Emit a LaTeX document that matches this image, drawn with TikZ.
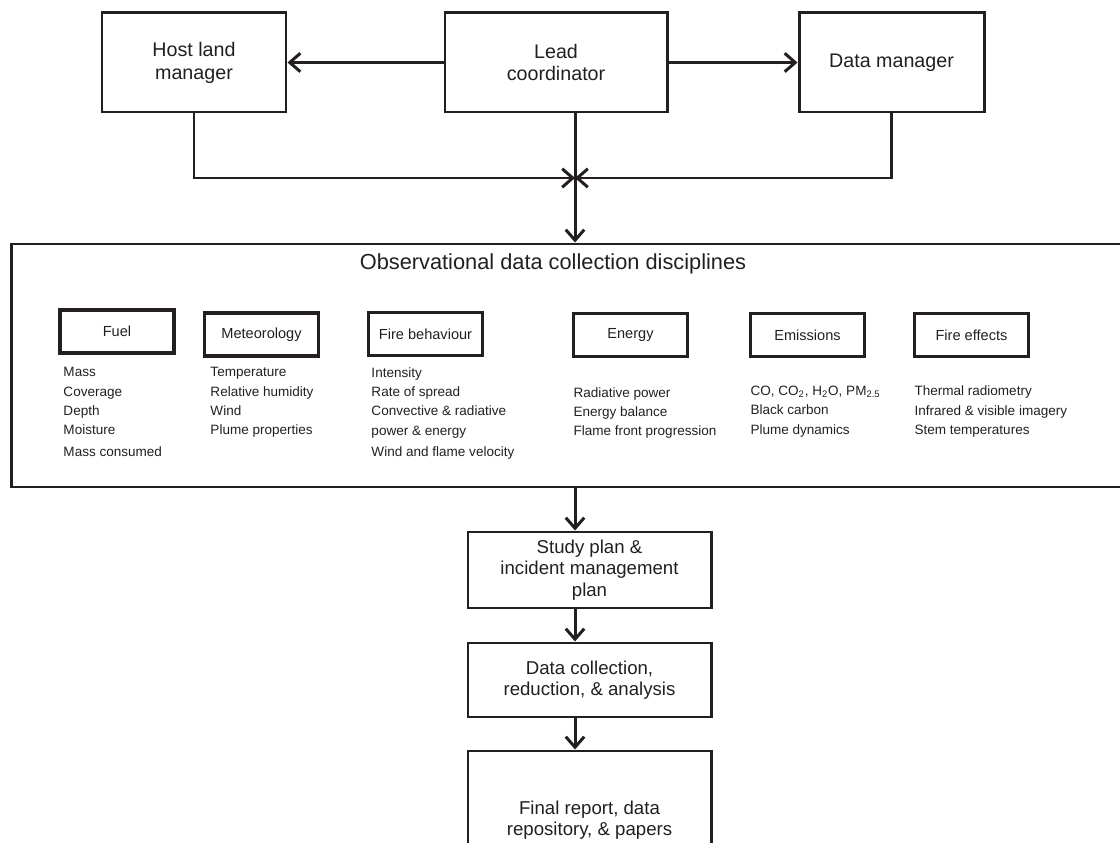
\documentclass[tikz,border=0pt]{standalone}
\usepackage{fontspec}
\setmainfont{Liberation Sans}
\usetikzlibrary{arrows.meta}
\definecolor{ink}{RGB}{35,31,32}
\begin{document}
\begin{tikzpicture}[x=0.2mm,y=-0.2mm,ink,line width=1.7pt,
    box/.style={draw,align=center,inner sep=0pt,font=\fontsize{11.2}{13}\selectfont},
    tag/.style={draw,line width=2.2pt,minimum width=22.8mm,minimum height=8.6mm,inner sep=0pt,font=\fontsize{8.3}{10}\selectfont},
    items/.style={anchor=north west,align=left,inner sep=0pt,font=\fontsize{7.7}{11}\selectfont},
    stepbox/.style={draw,align=center,inner sep=0pt,minimum width=48.6mm,font=\fontsize{10.6}{12.2}\selectfont},
    arrow/.style={-{Straight Barb[length=6pt,width=10.5pt]}}]
                \useasboundingbox (0,0) rectangle (1120,843);
                \clip (0,0) rectangle (1120,843);

                % people
                \node[box,minimum width=36.8mm,minimum height=19.8mm] (host) at (194,62.5) {Host land\\manager};
                \node[box,minimum width=44.4mm,minimum height=19.8mm] (lead) at (556,62.5) {Lead\\coordinator};
                \node[box,minimum width=37mm,minimum height=19.8mm] (data) at (891.5,62.5) {Data manager};
                \coordinate (junc) at (575,178);

                % disciplines
                \node[draw,minimum width=223.6mm,minimum height=48.6mm,inner sep=0pt] (obs) at (571,365.5) {};
                \node[anchor=base,font=\fontsize{12.4}{14}\selectfont] (title) at (553,270) {Observational data collection disciplines};

                \node[tag] (fuel) at (117,331.5) {Fuel};
                \node[tag] (meteo) at (261.5,334.5) {Meteorology};
                \node[tag] (behav) at (425.5,334) {Fire behaviour};
                \node[tag] (energy) at (630.5,335) {Energy};
                \node[tag] (emis) at (807.5,335) {Emissions};
                \node[tag] (effects) at (971.5,335) {Fire effects};

                \node[items] (fuellist) at (62,366) {Mass\\Coverage\\Depth\\Moisture\\[1.2pt]Mass consumed};
                \node[items] (meteolist) at (209,366) {Temperature\\Relative humidity\\Wind\\Plume properties};
                \node[items] (behavlist) at (370,366) {Intensity\\Rate of spread\\Convective \& radiative\\power \& energy\\[1.2pt]Wind and flame velocity};
                \node[items] (energylist) at (572,386) {Radiative power\\Energy balance\\Flame front progression};
                \node[items] (emislist) at (749,384.5) {CO, CO\textsubscript{2}, H\textsubscript{2}O, PM\textsubscript{2.5}\\Black carbon\\Plume dynamics};
                \node[items] (effectslist) at (913,384.5) {Thermal radiometry\\Infrared \& visible imagery\\Stem temperatures};

                % outputs
                \node[stepbox,minimum height=15.2mm] (plan) at (589.5,570) {Study plan \&\\incident management\\plan};
                \node[stepbox,minimum height=14.8mm] (dcol) at (589.5,680) {Data collection,\\reduction, \& analysis};
                \node[stepbox,minimum height=27.6mm] (final) at (589.5,820) {Final report, data\\repository, \& papers};

                \draw[arrow] (lead.west) -- (host.east);
                \draw[arrow] (lead.east) -- (data.west);
                \draw[arrow] (host.south) |- (junc);
                \draw[arrow] (data.south) |- (junc);
                \draw[arrow] (lead.south -| junc) -- (junc |- obs.north);
                \draw[arrow] (junc |- obs.south) -- (junc |- plan.north);
                \draw[arrow] (junc |- plan.south) -- (junc |- dcol.north);
                \draw[arrow] (junc |- dcol.south) -- (junc |- final.north);
            \end{tikzpicture}
\end{document}
